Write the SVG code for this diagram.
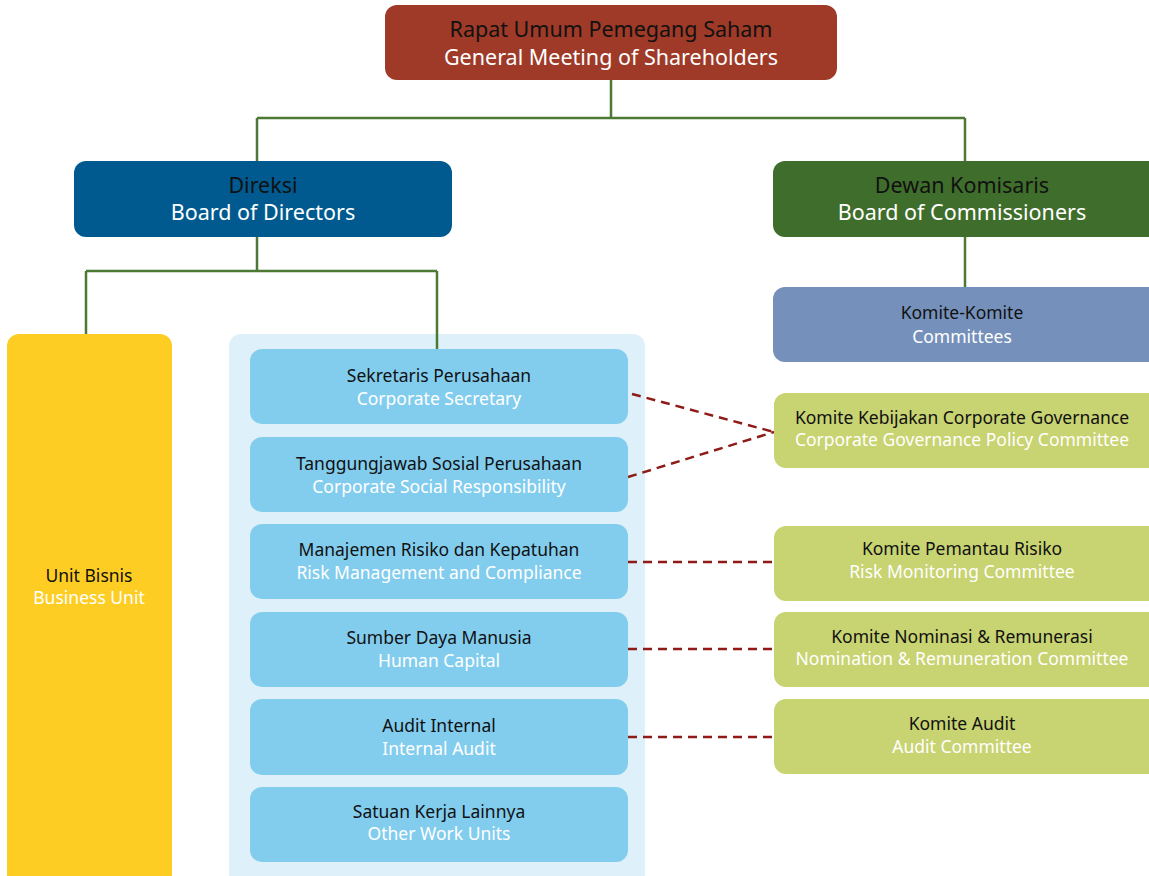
<svg xmlns="http://www.w3.org/2000/svg" width="1149" height="876" viewBox="0 0 1149 876">
<style>
text{font-family:"Noto Sans","Open Sans",sans-serif;text-anchor:middle}
.big{font-size:21.5px}
.sm{font-size:17.5px}
.k{fill:#111111}
.w{fill:#ffffff}
.tree{fill:none;stroke:#4C7A34;stroke-width:2.5}
.dash{fill:none;stroke:#8E1B17;stroke-width:2.5;stroke-dasharray:9 6}
.unit{fill:#82CDEE}
.com{fill:#C8D371}
</style>
<rect width="1149" height="876" fill="#ffffff"/>
<g id="container"><rect x="229" y="334" width="416" height="560" rx="12" fill="#DEF0FA"/></g>
<g id="connectors">
<path class="tree" d="M611 79V118M257 118H965M257 118V161M965 118V161M257 236V271M86 271H437M86 271V334M437 271V349M965 236V287"/>
<path class="dash" d="M632 394L774 432M628 477L774 432M628 562H774M628 649H774M628 737H774"/>
</g>
<g id="rups"><rect x="385" y="5" width="452" height="75" rx="12" fill="#9E3A27"/><text class="big k" x="611" y="37">Rapat Umum Pemegang Saham</text><text class="big w" x="611" y="65">General Meeting of Shareholders</text></g>
<g id="direksi"><rect x="74" y="161" width="378" height="76" rx="12" fill="#005A8F"/><text class="big k" x="263" y="193">Direksi</text><text class="big w" x="263" y="220">Board of Directors</text></g>
<g id="dewan"><rect x="773" y="161" width="390" height="76" rx="12" fill="#3F6D2B"/><text class="big k" x="962" y="193">Dewan Komisaris</text><text class="big w" x="962" y="220">Board of Commissioners</text></g>
<g id="komite"><rect x="773" y="287" width="390" height="75" rx="12" fill="#7591BB"/><text class="sm k" x="962" y="319">Komite-Komite</text><text class="sm w" x="962" y="343">Committees</text></g>
<g id="unitbisnis"><rect x="7" y="334" width="165" height="560" rx="12" fill="#FDCD24"/><text class="sm k" x="89" y="582">Unit Bisnis</text><text class="sm w" x="89" y="604">Business Unit</text></g>
<g id="sekretaris"><rect class="unit" x="250" y="349" width="378" height="75" rx="12"/><text class="sm k" x="439" y="382">Sekretaris Perusahaan</text><text class="sm w" x="439" y="405">Corporate Secretary</text></g>
<g id="csr"><rect class="unit" x="250" y="437" width="378" height="75" rx="12"/><text class="sm k" x="439" y="470">Tanggungjawab Sosial Perusahaan</text><text class="sm w" x="439" y="493">Corporate Social Responsibility</text></g>
<g id="risiko"><rect class="unit" x="250" y="524" width="378" height="75" rx="12"/><text class="sm k" x="439" y="556">Manajemen Risiko dan Kepatuhan</text><text class="sm w" x="439" y="579">Risk Management and Compliance</text></g>
<g id="sdm"><rect class="unit" x="250" y="612" width="378" height="75" rx="12"/><text class="sm k" x="439" y="644">Sumber Daya Manusia</text><text class="sm w" x="439" y="667">Human Capital</text></g>
<g id="audit"><rect class="unit" x="250" y="699" width="378" height="76" rx="12"/><text class="sm k" x="439" y="732">Audit Internal</text><text class="sm w" x="439" y="755">Internal Audit</text></g>
<g id="lainnya"><rect class="unit" x="250" y="787" width="378" height="75" rx="12"/><text class="sm k" x="439" y="818">Satuan Kerja Lainnya</text><text class="sm w" x="439" y="840">Other Work Units</text></g>
<g id="kebijakan"><rect class="com" x="774" y="393" width="390" height="75" rx="12"/><text class="sm k" x="962" y="424">Komite Kebijakan Corporate Governance</text><text class="sm w" x="962" y="446">Corporate Governance Policy Committee</text></g>
<g id="pemantau"><rect class="com" x="774" y="526" width="390" height="75" rx="12"/><text class="sm k" x="962" y="555">Komite Pemantau Risiko</text><text class="sm w" x="962" y="578">Risk Monitoring Committee</text></g>
<g id="nominasi"><rect class="com" x="774" y="612" width="390" height="75" rx="12"/><text class="sm k" x="962" y="643">Komite Nominasi &amp; Remunerasi</text><text class="sm w" x="962" y="665">Nomination &amp; Remuneration Committee</text></g>
<g id="komiteaudit"><rect class="com" x="774" y="699" width="390" height="75" rx="12"/><text class="sm k" x="962" y="730">Komite Audit</text><text class="sm w" x="962" y="753">Audit Committee</text></g>
</svg>
